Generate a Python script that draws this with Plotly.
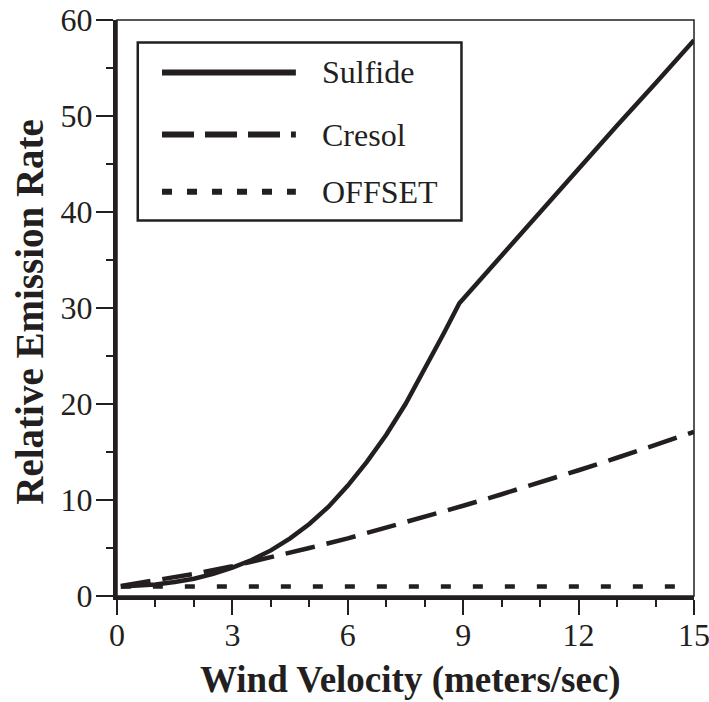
import plotly.graph_objects as go

# ---- data ----
sulfide_x = [0.1, 1, 1.5, 2, 2.5, 3, 3.5, 4, 4.5, 5, 5.5, 6, 6.5, 7, 7.5, 8, 8.5, 8.9, 10, 11, 12, 13, 14, 15]
sulfide_y = [1.0, 1.2, 1.45, 1.8, 2.3, 2.95, 3.75, 4.75, 6.0, 7.5, 9.3, 11.5, 14.0, 16.8, 20.0, 23.6, 27.4, 30.5,
             35.5, 40.0, 44.5, 49.0, 53.4, 57.9]

cresol_x = [0.1, 1, 2, 3, 4, 5, 6, 7, 8, 9, 10, 11, 12, 13, 14, 15]
cresol_y = [1.05, 1.6, 2.3, 3.1, 4.0, 5.0, 6.0, 7.1, 8.3, 9.4, 10.6, 11.8, 13.1, 14.4, 15.7, 17.1]

offset_x = [0.1, 15]
offset_y = [1.0, 1.0]

series_names = ["Sulfide", "Cresol", "OFFSET"]
x_tickvals = [0, 3, 6, 9, 12, 15]
y_tickvals = [0, 10, 20, 30, 40, 50, 60]
x_title = "Wind Velocity (meters/sec)"
y_title = "Relative Emission Rate"

INK = "#231f20"
FONT = "Liberation Serif, Times New Roman, serif"

fig = go.Figure()
fig.add_trace(go.Scatter(x=sulfide_x, y=sulfide_y, mode="lines", name=series_names[0],
                         line=dict(color=INK, width=4.5)))
fig.add_trace(go.Scatter(x=cresol_x, y=cresol_y, mode="lines", name=series_names[1],
                         line=dict(color=INK, width=4.5, dash="30px,12px")))
fig.add_trace(go.Scatter(x=offset_x, y=offset_y, mode="lines", name=series_names[2],
                         line=dict(color=INK, width=4.5, dash="10px,22px")))

fig.update_layout(
    width=709, height=702,
    margin=dict(l=117, r=15, t=20, b=106),
    paper_bgcolor="white", plot_bgcolor="white",
    showlegend=False,
    font=dict(family=FONT, color=INK),
)

fig.update_xaxes(
    range=[0, 15], tickvals=x_tickvals, ticktext=[str(v) for v in x_tickvals],
    showgrid=False, zeroline=False, automargin=False,
    showline=True, linecolor=INK, linewidth=4,
    ticks="outside", ticklen=15, tickwidth=1.5, tickcolor=INK,
    tickfont=dict(family=FONT, size=32, color=INK),
    ticklabelstandoff=-7, ticklabeloverflow="allow",
    minor=dict(dtick=1, tick0=0, ticks="outside", ticklen=7, tickwidth=1.5, tickcolor=INK, showgrid=False),
)
fig.update_yaxes(
    range=[0, 60], tickvals=y_tickvals, ticktext=[str(v) for v in y_tickvals],
    showgrid=False, zeroline=False, automargin=False,
    showline=True, linecolor=INK, linewidth=4,
    ticks="outside", ticklen=17, tickwidth=1.5, tickcolor=INK,
    tickfont=dict(family=FONT, size=32, color=INK),
    ticklabelstandoff=-3, ticklabeloverflow="allow",
    minor=dict(dtick=5, tick0=0, ticks="outside", ticklen=7, tickwidth=1.5, tickcolor=INK, showgrid=False),
)

# thin top/right frame
fig.add_shape(type="rect", xref="paper", yref="paper", x0=0, x1=1, y0=0, y1=1,
              line=dict(color=INK, width=1.5), layer="below")

# axis titles
fig.add_annotation(text="<b>%s</b>" % x_title, xref="paper", yref="paper",
                   x=0.509, y=-0.186, showarrow=False, xanchor="center", yanchor="bottom",
                   font=dict(family=FONT, size=37, color=INK))
fig.add_annotation(text="<b>%s</b>" % y_title, xref="paper", yref="paper",
                   x=-0.152, y=0.494, showarrow=False, textangle=-90,
                   xanchor="center", yanchor="middle",
                   font=dict(family=FONT, size=39, color=INK))

# custom legend box
fig.add_shape(type="rect", xref="paper", yref="paper", x0=0.036, x1=0.597, y0=0.652, y1=0.961,
              line=dict(color=INK, width=2.5), fillcolor="white")
leg_y = [0.909, 0.801, 0.702]
leg_dash = ["solid", "32px,11px", "10px,15px"]
for name, yy, dsh in zip(series_names, leg_y, leg_dash):
    fig.add_shape(type="line", xref="paper", yref="paper", x0=0.078, x1=0.310, y0=yy, y1=yy,
                  line=dict(color=INK, width=6, dash=dsh))
    fig.add_annotation(text=name, xref="paper", yref="paper", x=0.352, y=yy,
                       showarrow=False, xanchor="left", yanchor="middle",
                       font=dict(family=FONT, size=32, color=INK))

fig.write_html("out.html", config={"displayModeBar": False},
               post_script="document.body.style.margin='0';document.body.style.overflow='hidden';")
